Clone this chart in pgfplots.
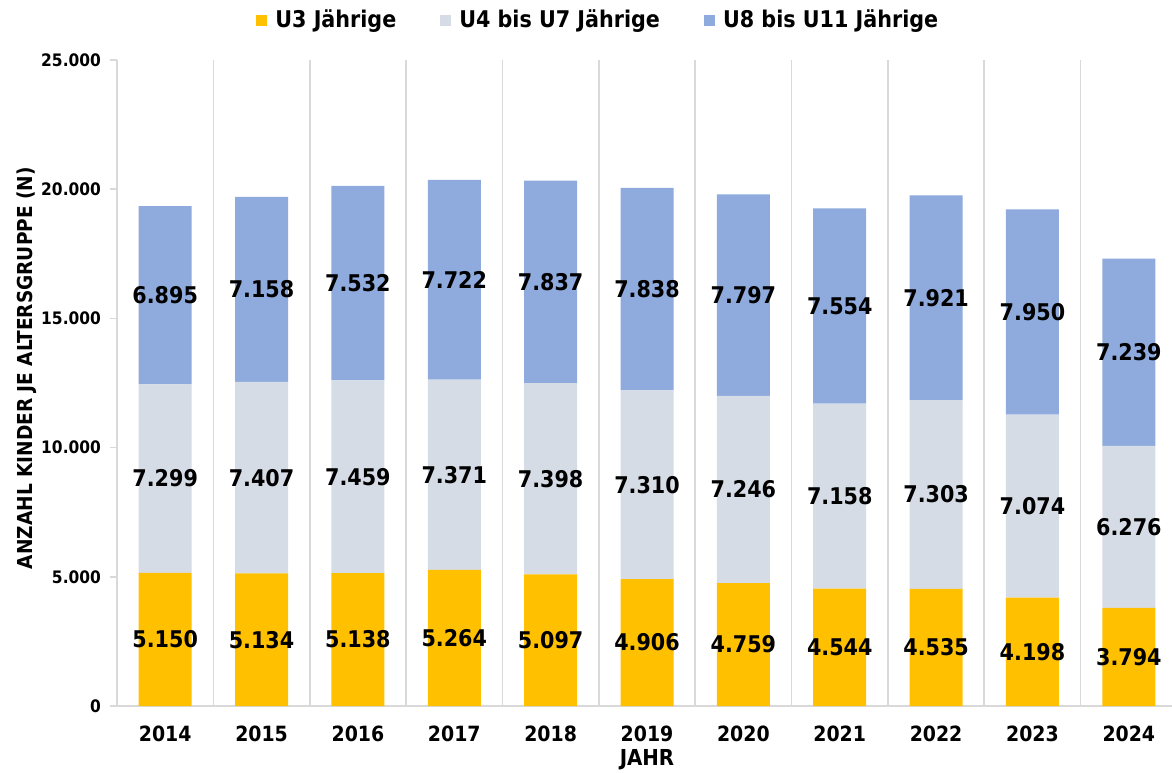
\documentclass[border=0pt]{standalone}
\usepackage{pgfplots}
\usepackage{pgfplotstable}
\pgfplotsset{compat=1.18}
\usepackage{fontspec}
\setmainfont{DejaVu Sans Condensed}
\definecolor{cA}{HTML}{FFC000}
\definecolor{cB}{HTML}{D6DCE5}
\definecolor{cC}{HTML}{8FAADC}
\definecolor{gridc}{HTML}{D9D9D9}
\pgfplotstableread{
x a b c
0 5150 7299 6895
1 5134 7407 7158
2 5138 7459 7532
3 5264 7371 7722
4 5097 7398 7837
5 4906 7310 7838
6 4759 7246 7797
7 4544 7158 7554
8 4535 7303 7921
9 4198 7074 7950
10 3794 6276 7239
}\datatable
\begin{document}
\begin{tikzpicture}
\path[use as bounding box] (-58.5pt,-33pt) rectangle (527.5pt,353pt);
\begin{axis}[
  at={(0pt,0pt)}, anchor=south west,
  scale only axis, width=530pt, height=323pt,
  xmin=-0.5, xmax=10.5, ymin=0, ymax=25000,
  ybar stacked, bar width=26.5pt,
  xtick={0,...,10},
  xticklabels={2014,2015,2016,2017,2018,2019,2020,2021,2022,2023,2024},
  minor xtick={-0.5,0.5,...,10.5},
  xminorgrids, minor x grid style={gridc, line width=0.8pt},
  ytick={0,5000,10000,15000,20000,25000},
  scaled y ticks=false,
  axis x line*=bottom, axis y line*=left,
  axis line style={gridc, line width=0.8pt, -},
  x axis line style={-}, y axis line style={-},
  major x tick style={draw=none}, minor x tick style={draw=none},
  ytick style={gridc, line width=0.8pt},
  tick align=outside, major tick length=3.5pt,
  /pgf/number format/.cd, 1000 sep={.}, assume math mode=true, /pgfplots/.cd,
  yticklabel style={font=\bfseries\fontsize{8.6}{10}\selectfont, black, xshift=-1pt},
  xticklabel style={font=\bfseries\fontsize{10.5}{12}\selectfont, black, yshift=-3pt},
  ylabel={ANZAHL KINDER JE ALTERSGRUPPE (N)},
  ylabel style={font=\bfseries\fontsize{10.3}{12}\selectfont, black, at={(axis description cs:-0.085,0.523)}, anchor=center},
  xlabel={JAHR},
  xlabel style={font=\bfseries\fontsize{11}{12}\selectfont, black, at={(axis description cs:0.5,0)}, anchor=center, yshift=-27pt},
  nodes near coords={\pgfmathprintnumber[1000 sep={.}, assume math mode=true]{\rawy}},
  every node near coord/.append style={font=\bfseries\fontsize{11.5}{13}\selectfont, black, anchor=center},
  legend columns=3,
  legend style={at={(axis description cs:0.455,1)}, anchor=center, yshift=20pt, draw=none, fill=none,
    font=\bfseries\fontsize{11.5}{13}\selectfont, column sep=2pt, /tikz/every even column/.append style={column sep=20pt}},
  legend image code/.code={\fill[#1] (0pt,-2.75pt) rectangle (5.5pt,2.75pt);},
]
\addplot[fill=cA, draw=none, visualization depends on={\thisrow{a} \as \rawy}] table[x=x, y=a] {\datatable};
\addlegendentry{U3 Jährige}
\addplot[fill=cB, draw=none, visualization depends on={\thisrow{b} \as \rawy}] table[x=x, y=b] {\datatable};
\addlegendentry{U4 bis U7 Jährige}
\addplot[fill=cC, draw=none, visualization depends on={\thisrow{c} \as \rawy}] table[x=x, y=c] {\datatable};
\addlegendentry{U8 bis U11 Jährige}
\end{axis}
\end{tikzpicture}
\end{document}
